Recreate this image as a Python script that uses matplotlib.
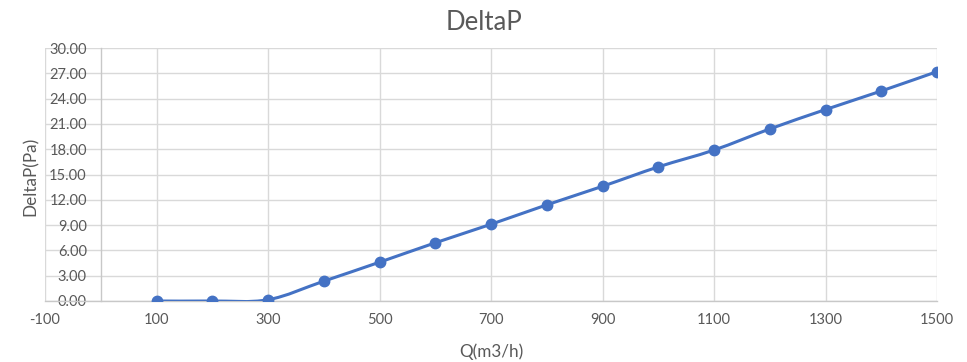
import numpy as np
import matplotlib
matplotlib.use("Agg")
import matplotlib.pyplot as plt
from matplotlib.path import Path
from matplotlib.patches import PathPatch

# flow rate (m3/h) and pressure drop (Pa)
q = [100, 200, 300, 400, 500, 600, 700, 800, 900, 1000, 1100, 1200, 1300, 1400, 1500]
dp = [0.0, 0.0, 0.15, 2.35, 4.6, 6.9, 9.1, 11.4, 13.6, 15.9, 17.9, 20.4, 22.7, 24.9, 27.2]

x_ticks = list(range(-100, 1501, 200))
y_ticks = list(range(0, 31, 3))

blue = "#4472C4"
grey_txt = "#595959"
grid_c = "#d9d9d9"

plt.rcParams['font.family'] = ['Lato', 'DejaVu Sans']
plt.rcParams['axes.unicode_minus'] = False


def smooth_path(xs, ys):
    # bezier smoothing similar to Excel's "smoothed line"
    pts = np.column_stack([xs, ys]).astype(float)
    n = len(pts)
    verts = [pts[0]]
    codes = [Path.MOVETO]
    for i in range(n - 1):
        p0 = pts[i - 1] if i > 0 else pts[i]
        p1 = pts[i]
        p2 = pts[i + 1]
        p3 = pts[i + 2] if i + 2 < n else pts[i + 1]
        c1 = p1 + (p2 - p0) / 6.0
        c2 = p2 - (p3 - p1) / 6.0
        verts += [c1, c2, p2]
        codes += [Path.CURVE4] * 3
    return Path(verts, codes)


fig = plt.figure(figsize=(9.67, 3.62), dpi=100)
ax = fig.add_axes([45 / 967, 1 - 301 / 362, 892 / 967, 253 / 362])

ax.add_patch(PathPatch(smooth_path(q, dp), fill=False, edgecolor=blue, lw=2.2,
                       capstyle='round', joinstyle='round', zorder=3))
ax.plot(q, dp, linestyle='none', marker='o', ms=7.5, color=blue, zorder=4)

ax.set_xlim(-100, 1500)
ax.set_ylim(0, 30)
ax.set_xticks(x_ticks)
ax.set_yticks(y_ticks)
ax.set_yticklabels([f"{v:.2f}" for v in y_ticks])

ax.grid(True, color=grid_c, lw=1.0, zorder=0)
ax.set_axisbelow(True)

for s in ['top', 'right']:
    ax.spines[s].set_visible(False)
ax.spines['left'].set_position(('data', 0))
ax.spines['left'].set_color("#c8c8c8")
ax.spines['bottom'].set_color("#c8c8c8")
ax.spines['left'].set_linewidth(1.0)
ax.spines['bottom'].set_linewidth(1.0)

ax.tick_params(axis='both', length=0, colors=grey_txt, labelsize=10.5)
ax.tick_params(axis='y', pad=10)
ax.tick_params(axis='x', pad=9)

fig.text(0.5, 1 - 22 / 362, "DeltaP", ha='center', va='center', fontsize=18.5, color=grey_txt)
fig.text(31 / 967, 1 - 176 / 362, "DeltaP(Pa)", ha='center', va='center', rotation=90,
         fontsize=12.3, color=grey_txt)
fig.text(491 / 967, 1 - 352 / 362, "Q(m3/h)", ha='center', va='center', fontsize=12.3,
         color=grey_txt)

fig.savefig("out.png", dpi=100)
